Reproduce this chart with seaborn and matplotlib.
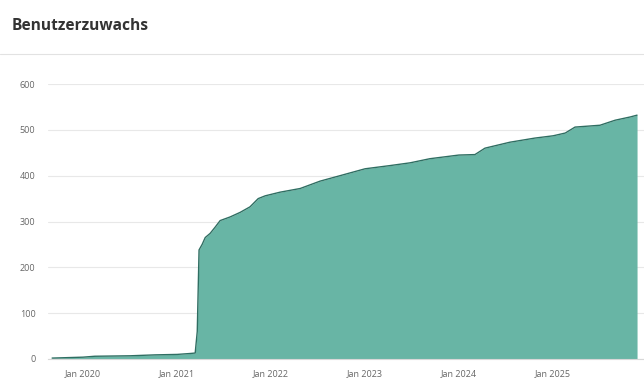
"""
Benutzerzuwachs chart: cumulative user growth as a filled area.
"""

import matplotlib
matplotlib.use("Agg")
import matplotlib.pyplot as plt
import matplotlib.dates as mdates
from matplotlib.lines import Line2D
import pandas as pd
import seaborn as sns


DATES: list[str] = [
    "2019-09-03", "2020-01-01", "2020-02-16", "2020-07-02", "2020-10-07",
    "2021-01-01", "2021-02-20", "2021-03-12", "2021-03-20", "2021-03-27",
    "2021-04-08", "2021-04-20", "2021-05-09", "2021-05-29", "2021-06-17",
    "2021-07-26", "2021-09-03", "2021-10-11", "2021-11-12", "2021-12-09",
    "2022-02-05", "2022-04-24", "2022-07-10", "2022-09-26", "2023-01-01",
    "2023-04-08", "2023-06-25", "2023-09-10", "2024-01-01", "2024-03-03",
    "2024-04-11", "2024-07-17", "2024-10-22", "2025-01-01", "2025-02-17",
    "2025-03-27", "2025-07-02", "2025-08-30", "2025-10-27", "2025-11-23",
]

USERS: list[int] = [
    2, 4, 6, 7, 9,
    10, 12, 13, 60, 238,
    250, 265, 274, 288, 302,
    310, 320, 332, 350, 356,
    364, 372, 388, 400, 415,
    422, 428, 437, 445, 446,
    460, 473, 482, 487, 493,
    506, 510, 521, 528, 532,
]

TICK_YEARS: list[int] = [2020, 2021, 2022, 2023, 2024, 2025]

FILL_COLOR = "#68b5a5"
LINE_COLOR = "#2f6e62"
TEXT_COLOR = "#666666"


def main() -> None:
    df = pd.DataFrame({"date": pd.to_datetime(DATES), "users": USERS})

    sns.set_style("white")
    plt.rcParams["font.family"] = ["Open Sans", "DejaVu Sans"]

    fig = plt.figure(figsize=(6.44, 3.79), dpi=100)
    ax = fig.add_axes([48 / 644, 1 - 359 / 379, 1 - 48 / 644, (359 - 84) / 379])

    ax.fill_between(df["date"], df["users"], 0, color=FILL_COLOR, linewidth=0)
    sns.lineplot(data=df, x="date", y="users", ax=ax,
                 color=LINE_COLOR, linewidth=1.0)

    ax.set_xlim(pd.Timestamp("2019-08-18"), pd.Timestamp("2025-12-20"))
    ax.set_ylim(0, 600)
    ax.set_yticks([0, 100, 200, 300, 400, 500, 600])
    ax.set_xticks([pd.Timestamp(f"{y}-01-01") for y in TICK_YEARS])
    ax.xaxis.set_major_formatter(mdates.DateFormatter("Jan %Y"))

    ax.grid(axis="y", color="#e8e8e8", linewidth=0.8)
    ax.set_axisbelow(True)
    for side in ["top", "right", "left"]:
        ax.spines[side].set_visible(False)
    ax.spines["bottom"].set_color("#d8d8d8")
    ax.spines["bottom"].set_linewidth(0.8)

    ax.tick_params(axis="y", length=0, pad=9, labelsize=6.5, labelcolor=TEXT_COLOR)
    ax.tick_params(axis="x", length=4, width=0.6, color="#cccccc", pad=3,
                   labelsize=6.5, labelcolor=TEXT_COLOR)
    ax.set_xlabel("")
    ax.set_ylabel("")

    fig.text(12 / 644, 1 - 30 / 379, "Benutzerzuwachs", fontsize=11.2,
             fontweight="bold", color="#333333", va="baseline")
    fig.add_artist(Line2D([0, 1], [1 - 54 / 379, 1 - 54 / 379],
                          color="#e2e2e2", linewidth=0.8))

    fig.savefig("out.png", dpi=100)


if __name__ == "__main__":
    main()
